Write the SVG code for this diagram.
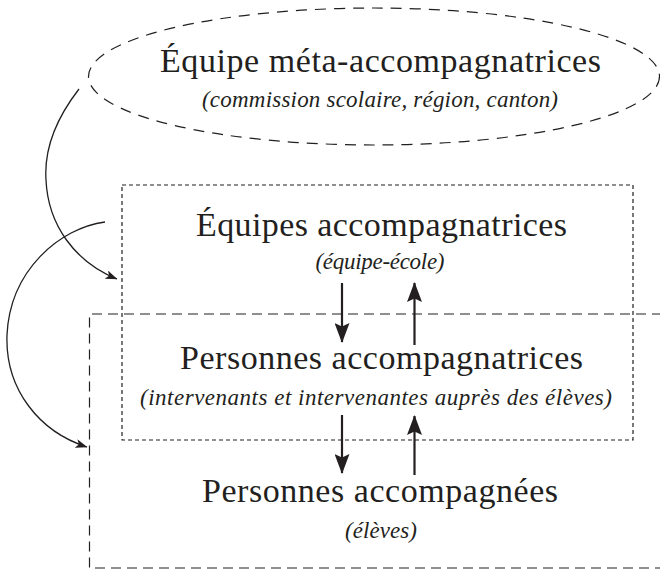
<svg xmlns="http://www.w3.org/2000/svg" width="660" height="571" viewBox="0 0 660 571">
  <style>
    .title { font-family: "Liberation Serif", "Times New Roman", serif; font-size: 34px; fill: #231f20; text-anchor: middle; }
    .sub { font-family: "Liberation Serif", "Times New Roman", serif; font-size: 23px; font-style: italic; fill: #231f20; text-anchor: middle; }
    .frame { fill: none; stroke: #231f20; stroke-width: 1.2; }
    .ellipse-frame { stroke-dasharray: 11 8; }
    .inner-frame { stroke-dasharray: 4 3; }
    .outer-frame { stroke-dasharray: 10 6; }
    .flow { fill: none; stroke: #231f20; stroke-width: 2.2; marker-end: url(#head-big); }
    .link { fill: none; stroke: #231f20; stroke-width: 1.3; marker-end: url(#head-small); }
  </style>
  <defs>
    <marker id="head-big" viewBox="0 0 20 15" refX="19" refY="7.5" markerWidth="20" markerHeight="15" markerUnits="userSpaceOnUse" orient="auto">
      <path d="M0 0 L20 7.5 L0 15 L3.5 7.5 Z" fill="#231f20"/>
    </marker>
    <marker id="head-small" viewBox="0 0 12 9" refX="11.5" refY="4.5" markerWidth="12" markerHeight="9" markerUnits="userSpaceOnUse" orient="auto">
      <path d="M0 0 L12 4.5 L0 9 L3 4.5 Z" fill="#231f20"/>
    </marker>
  </defs>

  <!-- frames and labels -->
  <g id="meta-team">
    <ellipse class="frame ellipse-frame" cx="374" cy="76.5" rx="285.5" ry="68.5"/>
    <text class="title" x="380.5" y="72" textLength="441">Équipe méta-accompagnatrices</text>
    <text class="sub" x="380" y="107" textLength="356">(commission scolaire, région, canton)</text>
  </g>

  <g id="support-teams">
    <rect class="frame inner-frame" x="122" y="185" width="511" height="255"/>
    <text class="title" x="381.5" y="236" textLength="371">Équipes accompagnatrices</text>
    <text class="sub" x="380" y="269" textLength="129">(équipe-école)</text>
  </g>

  <g id="support-persons">
    <path class="frame outer-frame" d="M662 314 H89.5 V568 H662"/>
    <text class="title" x="381.5" y="369" textLength="403">Personnes accompagnatrices</text>
    <text class="sub" x="376" y="405" textLength="472">(intervenants et intervenantes auprès des élèves)</text>
  </g>

  <g id="supported-persons">
    <text class="title" x="380" y="502" textLength="356">Personnes accompagnées</text>
    <text class="sub" x="381" y="538" textLength="72">(élèves)</text>
  </g>

  <!-- connectors -->
  <g id="connectors">
    <path class="flow" d="M342 283 V342"/>
    <path class="flow" d="M414.5 345 V283"/>
    <path class="flow" d="M342 415 V473"/>
    <path class="flow" d="M414.5 475 V416"/>
    <path class="link" d="M79 89 C55 120, 44 150, 46 180 C48 225, 75 262, 117 279"/>
    <path class="link" d="M105 222 C60 228, 10 270, 7 335 C5 390, 40 432, 87 447"/>
  </g>
</svg>
